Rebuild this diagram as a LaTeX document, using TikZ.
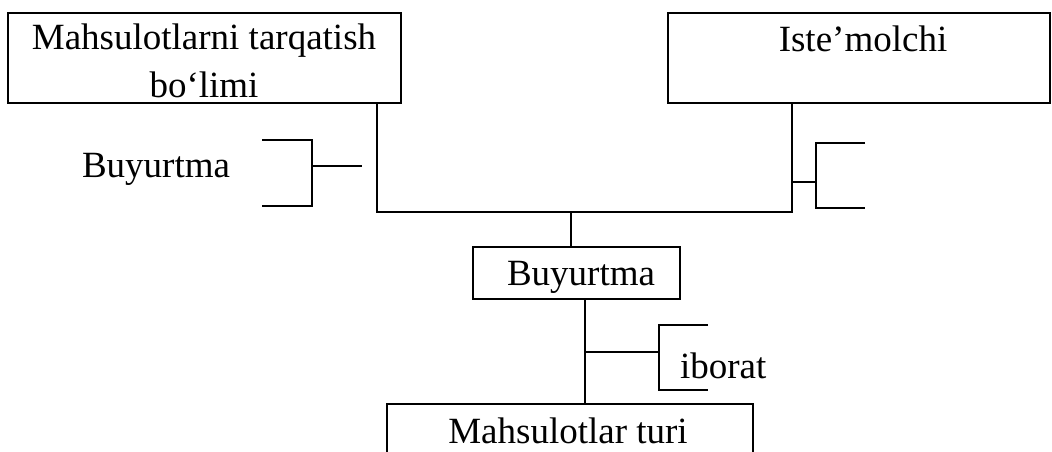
\documentclass[tikz,border=0pt]{standalone}
\usepackage{fontspec}
\setmainfont{Liberation Serif}
\begin{document}
\begin{tikzpicture}[x=1pt,y=-1pt,
  every node/.style={font=\fontsize{37}{47}\selectfont, inner sep=0pt, outer sep=0pt},
  box/.style={draw, line width=1.8pt, rectangle, anchor=north west},
  wire/.style={line width=1.8pt}]
\clip (0,0) rectangle (1052,452);
\fill[white] (0,0) rectangle (1052,452);

% boxes
\node[box, minimum width=393pt, minimum height=90pt] (b1) at (8,13) {};
\node[box, minimum width=382pt, minimum height=90pt] (b2) at (668,13) {};
\node[box, minimum width=207pt, minimum height=52pt] (b3) at (473,247) {};
\node[box, minimum width=366pt, minimum height=90pt] (b4) at (387,404) {};

% box texts
\node[anchor=base] (t1a) at (204,50) {Mahsulotlarni tarqatish};
\node[anchor=base] (t1b) at (204,97) {bo‘limi};
\node[anchor=base] (t2) at (863,52) {Iste’molchi};
\node[anchor=base] (t3) at (581,285) {Buyurtma};
\node[anchor=base] (t4) at (568,443) {Mahsulotlar turi};

% free labels
\node[anchor=base west] (l1) at (82,177) {Buyurtma};
\node[anchor=base west] (l2) at (680,378) {iborat};

% junction points
\coordinate (j1) at (377,212);
\coordinate (j2) at (792,212);
\coordinate (j3) at (571,212);
\coordinate (k) at (585,352);

% main connectors
\draw[wire] (j1 |- b1.south) -- (j1) -- (j2) -- (j2 |- b2.south);
\draw[wire] (j3) -- (j3 |- b3.north);
\draw[wire] (k |- b3.south) -- (k |- b4.north);

% left bracket
\coordinate (lb1) at (312,140);
\coordinate (lb2) at (312,206);
\coordinate (lbm) at (312,166);
\coordinate (lbs) at (362,166);
\draw[wire] (262,140) -- (lb1) -- (lb2) -- (262,206);
\draw[wire] (lbm) -- (lbs);

% right bracket
\coordinate (rb1) at (816,143);
\coordinate (rb2) at (816,208);
\coordinate (rbm) at (816,182);
\draw[wire] (865,143) -- (rb1) -- (rb2) -- (865,208);
\draw[wire] (j2 |- rbm) -- (rbm);

% bracket below the order box
\coordinate (ib1) at (659,325);
\coordinate (ib2) at (659,390);
\coordinate (ibm) at (659,352);
\draw[wire] (708,325) -- (ib1) -- (ib2) -- (708,390);
\draw[wire] (k) -- (ibm);
\end{tikzpicture}
\end{document}
